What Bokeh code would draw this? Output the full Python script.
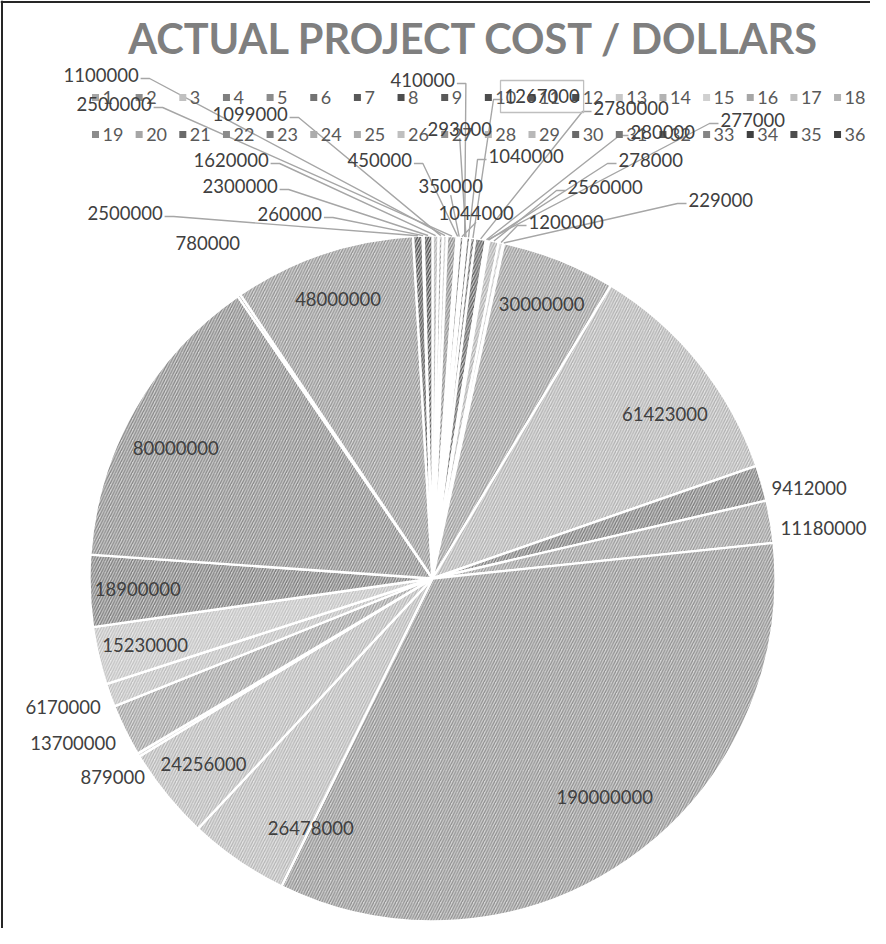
import math
from bokeh.plotting import figure
from bokeh.models import Range1d, ColumnDataSource
from bokeh.core.properties import value
from bokeh.embed import file_html
from bokeh.resources import INLINE

# ---------------- data ----------------
title = "ACTUAL PROJECT COST / DOLLARS"
project_ids = [str(i) for i in range(1, 37)]
costs = [1620000, 1099000, 1100000, 2500000, 450000, 350000, 1044000, 410000, 293000,
         1040000, 1267000, 2780000, 280000, 277000, 278000, 2560000, 1200000, 229000,
         30000000, 61423000, 9412000, 11180000, 190000000, 26478000, 24256000, 879000,
         13700000, 6170000, 15230000, 18900000, 80000000, 780000, 48000000,
         2500000, 260000, 2300000]

# ---------------- styles / layout ----------------
shades = ["#a6a6a6", "#8c8c8c", "#c0c0c0", "#7f7f7f", "#8c8c8c", "#737373",
          "#595959", "#4d4d4d", "#595959", "#4d4d4d", "#595959", "#4d4d4d",
          "#c8c8c8", "#b3b3b3", "#d0d0d0", "#a6a6a6", "#bfbfbf", "#b3b3b3",
          "#8c8c8c", "#a6a6a6", "#6a6a6a", "#8c8c8c", "#808080", "#acacac",
          "#acacac", "#bfbfbf", "#939393", "#b3b3b3", "#b8b8b8", "#6a6a6a",
          "#777777", "#595959", "#858585", "#404040", "#4d4d4d", "#404040"]

W, H = 870, 928
REF_H = 944
X0, Y0 = 0, 0          # page position of the plot frame
CX, CY_REF, R = 432, 578, 343
FONT = "Lato"
LABEL_SIZE = 18.5
DIGIT_W = 0.58 * LABEL_SIZE
CAP = 0.72 * LABEL_SIZE

# explicit placements for the crowded labels: slice number -> (left x, centre y) in page px
placed = {1: (193, 159), 2: (212, 113), 3: (63, 74), 4: (76, 103), 5: (347, 159),
          6: (418, 185), 7: (438, 212), 8: (390, 79), 9: (427, 128), 10: (488, 155),
          11: (504, 95), 12: (593, 107), 13: (630, 131), 14: (720, 119), 15: (618, 159),
          16: (567, 186), 17: (528, 221), 18: (688, 199), 26: (80, 776), 32: (175, 242),
          34: (87, 212), 35: (257, 213), 36: (202, 185)}
no_leader = {26, 32}
boxed = {11}
# best-fit adjustments of inside labels: slice number -> (angle deg clockwise from 12, radius fraction)
inside_fit = {20: (54.7, 0.83), 23: (141.7, 0.81), 24: (206.0, 0.81), 31: (297.0, 0.84)}


def fy(y_ref):
    return REF_H - y_ref


def mix(hexc, t):
    c = [int(hexc[i:i + 2], 16) for i in (1, 3, 5)]
    c = [round(v + (255 - v) * t) if t >= 0 else round(v * (1 + t)) for v in c]
    return "#%02x%02x%02x" % tuple(c)


CY = fy(CY_REF)
total = float(sum(costs))

p = figure(width=W, height=H, x_range=Range1d(X0, X0 + W), y_range=Range1d(REF_H - Y0 - H, REF_H - Y0),
           output_backend="svg", toolbar_location=None, min_border=0,
           x_axis_type=None, y_axis_type=None, outline_line_color=None)
p.grid.visible = False
p.background_fill_color = "white"

# chart-area border (left and top edges visible in the frame)
p.segment(x0=[1.5, 0], y0=[fy(0), fy(1.5)], x1=[1.5, W], y1=[fy(H), fy(1.5)],
          line_color="#262626", line_width=2)

# ---------------- wedges ----------------
starts, ends, mids = [], [], []
acc = 0.0
for v in costs:
    a1 = acc / total * 360.0
    acc += v
    a2 = acc / total * 360.0
    starts.append(math.radians(90 - a1))
    ends.append(math.radians(90 - a2))
    mids.append((a1 + a2) / 2.0)

wsrc = ColumnDataSource(dict(
    start=starts, end=ends,
    fill=[mix(s, 0.68) for s in shades],
    hatch=[mix(s, 0.1) for s in shades]))
p.wedge(x=CX, y=CY, radius=R, start_angle="start", end_angle="end", direction="clock",
        source=wsrc, fill_color="fill", line_color="white", line_width=2.4,
        hatch_pattern="/", hatch_color="hatch", hatch_scale=5.5, hatch_weight=1.3)

# ---------------- labels ----------------
lx, ly, lt = [], [], []
lead_xs, lead_ys = [], []
box_l = []
for i, v in enumerate(costs):
    n = i + 1
    txt = f"{v}"
    w = len(txt) * DIGIT_W
    th = math.radians(mids[i])
    s, c = math.sin(th), math.cos(th)
    if n in placed:
        left, yc_ref = placed[n]
        yc = fy(yc_ref)
        if n not in no_leader:
            px, py = CX + R * s, CY + R * c
            ya = yc - 4
            if px > left + w:
                x0 = left + w + 2
                pts_x, pts_y = [x0, x0 + 9, px], [ya, ya, py]
            elif px < left:
                x0 = left - 2
                pts_x, pts_y = [x0, x0 - 9, px], [ya, ya, py]
            else:
                pts_x, pts_y = [left + w / 2, px], [yc - CAP / 2 - 3, py]
            lead_xs.append(pts_x)
            lead_ys.append(pts_y)
        if n in boxed:
            box_l.append((left + w / 2, yc, w))
    elif v >= 14500000:
        ang, frac = inside_fit.get(n, (mids[i], 0.86))
        t2 = math.radians(ang)
        rr = frac * R
        left = CX + rr * math.sin(t2) - w / 2
        yc = CY + rr * math.cos(t2)
    else:
        rr = R + 10
        bx = CX + rr * s
        left = bx if s >= 0 else bx - w
        yc = CY + rr * c - 8
    lx.append(left)
    ly.append(yc)
    lt.append(txt)

p.multi_line(xs=lead_xs, ys=lead_ys, line_color="#a6a6a6", line_width=1.4)

for (bxc, byc, bw) in box_l:
    p.rect(x=bxc, y=byc - 1, width=bw + 8, height=32,
           fill_color=None, line_color="#bfbfbf", line_width=1.3)

# ---------------- legend ----------------
leg_x = [95 + ((i % 18) * 43.65) for i in range(36)]
leg_y = [fy(97 + (i // 18) * 37) for i in range(36)]
p.rect(x=leg_x, y=leg_y, width=7, height=7, fill_color=shades, line_color=None)
p.text(x=[x + 7 for x in leg_x], y=leg_y, text=project_ids,
       text_font=value(FONT), text_font_size=value("18px"), text_color="#595959",
       text_align="left", text_baseline="middle")

p.text(x=lx, y=ly, text=lt, text_font=value(FONT), text_font_size=value(f"{LABEL_SIZE}px"),
       text_color="#404040", text_align="left", text_baseline="middle")

# ---------------- title ----------------
p.text(x=[474], y=[fy(37)], text=[title], text_font=value(FONT), text_font_style="bold",
       text_font_size=value("41.5px"), text_color="#7f7f7f", text_align="center",
       text_baseline="middle")

open("out.html", "w").write(file_html(p, INLINE))
